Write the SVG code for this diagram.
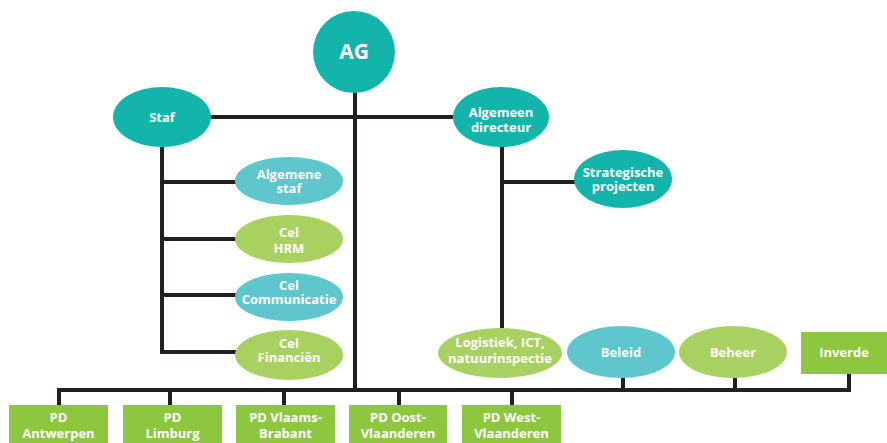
<svg xmlns="http://www.w3.org/2000/svg" width="887" height="443" viewBox="0 0 887 443">
<style>
.t{font-family:"Open Sans","Liberation Sans",sans-serif;font-weight:700;font-size:13px;fill:#ffffff;text-anchor:middle}
.teal{fill:#13b5ab}
.blue{fill:#5ec6cc}
.lg{fill:#a9d162}
.g{fill:#8dc63f}
.c{stroke:#231f20;stroke-width:4;fill:none;stroke-linecap:butt;stroke-linejoin:miter}
</style>
<rect width="887" height="443" fill="#ffffff"/>
<g id="connectors">
<path class="c" d="M211 117H453"/>
<path class="c" d="M355 92V390"/>
<path class="c" d="M162 147V352H236M162 182H236M162 239H236M162 295H236"/>
<path class="c" d="M502 147V328M502 182H575"/>
<path class="c" d="M59 405V390H849V374M170 390V405M284 390V405M399 390V405M512 390V405M623 378V390M735 378V390"/>
</g>
<g id="ag"><circle class="teal" cx="354" cy="52" r="41"/><text class="t" x="354" y="59" style="font-size:21px">AG</text></g>
<g id="staf"><ellipse class="teal" cx="162" cy="117" rx="49" ry="30"/><text class="t" x="162" y="122">Staf</text></g>
<g id="algemeen-directeur"><ellipse class="teal" cx="501" cy="117" rx="48" ry="30"/><text class="t" x="501" y="117">Algemeen<tspan x="501" dy="15">directeur</tspan></text></g>
<g id="algemene-staf"><ellipse class="blue" cx="289" cy="181" rx="54" ry="24"/><text class="t" x="289" y="179">Algemene<tspan x="289" dy="14">staf</tspan></text></g>
<g id="cel-hrm"><ellipse class="lg" cx="289" cy="239" rx="54" ry="24"/><text class="t" x="289" y="237">Cel<tspan x="289" dy="16">HRM</tspan></text></g>
<g id="cel-communicatie"><ellipse class="blue" cx="289" cy="297" rx="54" ry="24"/><text class="t" x="289" y="290">Cel<tspan x="289" dy="14">Communicatie</tspan></text></g>
<g id="cel-financien"><ellipse class="lg" cx="289" cy="355" rx="54" ry="25"/><text class="t" x="289" y="348">Cel<tspan x="289" dy="14">Financiën</tspan></text></g>
<g id="strategische-projecten"><ellipse class="teal" cx="623" cy="179" rx="49" ry="29"/><text class="t" x="623" y="177">Strategische<tspan x="623" dy="14">projecten</tspan></text></g>
<g id="logistiek"><ellipse class="lg" cx="500" cy="353" rx="62" ry="25"/><text class="t" x="500" y="347">Logistiek, ICT,<tspan x="500" dy="16">natuurinspectie</tspan></text></g>
<g id="beleid"><ellipse class="blue" cx="621" cy="352" rx="54" ry="26"/><text class="t" x="621" y="357">Beleid</text></g>
<g id="beheer"><ellipse class="lg" cx="733" cy="352" rx="54" ry="26"/><text class="t" x="733" y="357">Beheer</text></g>
<g id="inverde"><rect class="g" x="801" y="332" width="86" height="42"/><text class="t" x="844" y="357">Inverde</text></g>
<g id="pd-antwerpen"><rect class="g" x="9" y="405" width="99" height="45"/><text class="t" x="58.5" y="422">PD<tspan x="58.5" dy="16">Antwerpen</tspan></text></g>
<g id="pd-limburg"><rect class="g" x="123" y="405" width="99" height="45"/><text class="t" x="172.5" y="422">PD<tspan x="172.5" dy="16">Limburg</tspan></text></g>
<g id="pd-vlaams-brabant"><rect class="g" x="236" y="405" width="99" height="45"/><text class="t" x="285.5" y="422">PD Vlaams-<tspan x="285.5" dy="16">Brabant</tspan></text></g>
<g id="pd-oost-vlaanderen"><rect class="g" x="349" y="405" width="98" height="45"/><text class="t" x="398" y="422">PD Oost-<tspan x="398" dy="16">Vlaanderen</tspan></text></g>
<g id="pd-west-vlaanderen"><rect class="g" x="462" y="405" width="99" height="45"/><text class="t" x="511.5" y="422">PD West-<tspan x="511.5" dy="16">Vlaanderen</tspan></text></g>
</svg>
